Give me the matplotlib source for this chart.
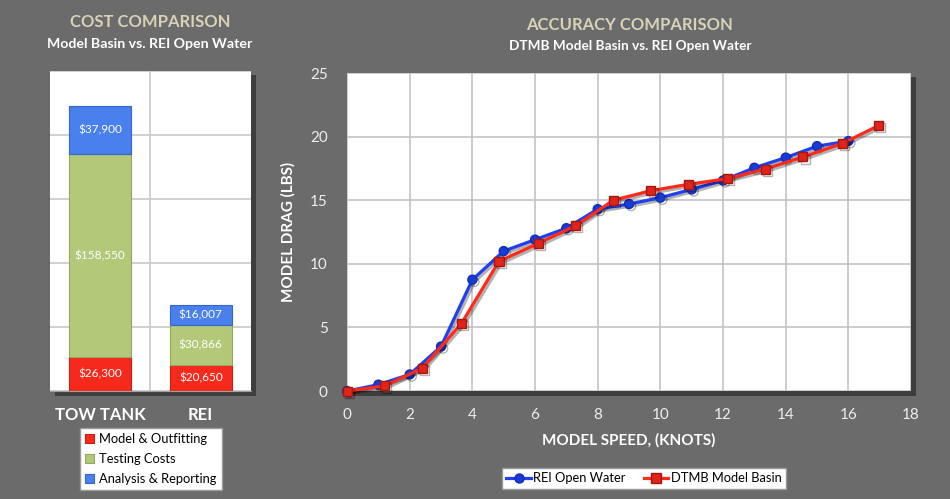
import matplotlib.pyplot as plt
import matplotlib.patheffects as pe
from matplotlib.patches import Rectangle

# cost comparison data
categories = ['TOW TANK', 'REI']
model_outfitting = [26300, 20650]
testing_costs = [158550, 30866]
analysis_reporting = [37900, 16007]
cost_series = ['Model & Outfitting', 'Testing Costs', 'Analysis & Reporting']

# accuracy comparison data
rei_speed = [0, 1, 2, 3, 4, 5, 6, 7, 8, 9, 10, 11, 12, 13, 14, 15, 16]
rei_drag = [0, 0.5, 1.3, 3.5, 8.75, 11.0, 11.9, 12.8, 14.3, 14.7, 15.2, 15.85, 16.55, 17.55, 18.35, 19.25, 19.65]
dtmb_speed = [0, 1.2, 2.4, 3.65, 4.85, 6.1, 7.3, 8.5, 9.7, 10.9, 12.15, 13.35, 14.55, 15.8, 16.95]
dtmb_drag = [0, 0.4, 1.8, 5.3, 10.2, 11.6, 13.0, 15.0, 15.75, 16.25, 16.7, 17.45, 18.4, 19.45, 20.85]

BG = '#6b6b6b'
TITLE = '#d8d2b6'
RED = '#f52a1c'
GREEN = '#b3c979'
BLUE = '#4a80ee'
FONT = 'Lato'

plt.rcParams['font.family'] = FONT

fig = plt.figure(figsize=(9.5, 4.99), dpi=100, facecolor=BG)

def shadow(ax_rect):
    l, b, w, h = ax_rect
    fig.patches.append(Rectangle((l + 0.005, b - 0.009), w, h, transform=fig.transFigure,
                                 facecolor='#3e3e3e', edgecolor='none', zorder=-5))

# ---------- left: cost comparison ----------
rect1 = [0.0526, 0.2164, 0.2116, 0.6413]
shadow(rect1)
ax1 = fig.add_axes(rect1, zorder=2)
ax1.set_facecolor('white')
x = range(len(categories))
w = 0.62
b1 = ax1.bar(x, model_outfitting, w, color=RED, edgecolor='#c81e14', linewidth=0.8, label=cost_series[0], zorder=3)
b2 = ax1.bar(x, testing_costs, w, bottom=model_outfitting, color=GREEN, edgecolor='#93a85e', linewidth=0.8,
             label=cost_series[1], zorder=3)
bottoms = [a + b for a, b in zip(model_outfitting, testing_costs)]
b3 = ax1.bar(x, analysis_reporting, w, bottom=bottoms, color=BLUE, edgecolor='#3366cc', linewidth=0.8,
             label=cost_series[2], zorder=3)
for bars, vals in [(b1, model_outfitting), (b2, testing_costs), (b3, analysis_reporting)]:
    ax1.bar_label(bars, labels=['${:,}'.format(v) for v in vals], label_type='center',
                  color='white', fontsize=8.5)
ax1.set_xlim(-0.5, 1.5)
ax1.set_ylim(0, 250000)
ax1.set_yticks(range(0, 250001, 50000))
ax1.yaxis.grid(True, color='#c8c8c8', linewidth=1.2, zorder=0)
ax1.axvline(0.5, color='#c8c8c8', linewidth=1.2, zorder=0)
ax1.tick_params(left=False, labelleft=False, bottom=False)
ax1.set_xticks(list(x))
ax1.set_xticklabels(categories, color='white', fontsize=12, fontweight='bold')
ax1.tick_params(axis='x', pad=8)
for s in ax1.spines.values():
    s.set_visible(False)
ax1.spines['bottom'].set_visible(True)
ax1.spines['bottom'].set_color('#a0a0a0')

leg1 = fig.legend(handles=[b1, b2, b3], loc='upper left', bbox_to_anchor=(0.084, 0.142),
                  frameon=True, fancybox=False, fontsize=9.3, handlelength=0.7, handleheight=0.7,
                  handletextpad=0.4, labelspacing=0.6, borderpad=0.4, borderaxespad=0)
leg1.get_frame().set_facecolor('white')
leg1.get_frame().set_edgecolor('#999999')
leg1.get_frame().set_alpha(1)

fig.text(0.158, 0.955, 'COST COMPARISON', ha='center', va='center', color=TITLE, fontsize=12, fontweight='bold')
fig.text(0.158, 0.911, 'Model Basin vs. REI Open Water', ha='center', va='center', color='white',
         fontsize=10.2, fontweight='bold')

# ---------- right: accuracy comparison ----------
rect2 = [0.3653, 0.2164, 0.5937, 0.6373]
shadow(rect2)
ax2 = fig.add_axes(rect2, zorder=2)
ax2.set_facecolor('white')
sh = [pe.SimpleLineShadow(offset=(1.5, -1.5), alpha=0.3), pe.Normal()]
ax2.plot(rei_speed, rei_drag, color='#1f3ff0', linewidth=2.3, marker='o', markersize=6.5,
         markerfacecolor='#1a3ad8', markeredgecolor='#1430b0', label='REI Open Water', zorder=4,
         path_effects=sh, clip_on=False)
ax2.plot(dtmb_speed, dtmb_drag, color='#ff2a1a', linewidth=2.3, marker='s', markersize=6.5,
         markerfacecolor='#e0241a', markeredgecolor='#a01810', label='DTMB Model Basin', zorder=5,
         path_effects=sh, clip_on=False)
ax2.set_xlim(0, 18)
ax2.set_ylim(0, 25)
ax2.set_xticks(range(0, 19, 2))
ax2.set_yticks(range(0, 26, 5))
ax2.grid(True, color='#c4c4c4', linewidth=1.2, zorder=0)
ax2.tick_params(length=0, colors='#eeeeee', labelsize=11)
ax2.tick_params(axis='y', pad=14)
ax2.tick_params(axis='x', pad=12)
for s in ax2.spines.values():
    s.set_visible(False)
ax2.set_xlabel('MODEL SPEED, (KNOTS)', color='white', fontsize=11, fontweight='bold', labelpad=8)
ax2.set_ylabel('MODEL DRAG (LBS)', color='white', fontsize=11, fontweight='bold', labelpad=10)

leg2 = fig.legend(handles=ax2.get_lines(), loc='center', bbox_to_anchor=(0.678, 0.042), ncol=2,
                  frameon=True, fancybox=False, fontsize=9.3, handlelength=1.9, handletextpad=0.2,
                  columnspacing=1.4, borderpad=0.35, borderaxespad=0)
leg2.get_frame().set_facecolor('white')
leg2.get_frame().set_edgecolor('#999999')
leg2.get_frame().set_alpha(1)
for h in leg2.legend_handles:
    h.set_path_effects([])

fig.text(0.663, 0.949, 'ACCURACY COMPARISON', ha='center', va='center', color=TITLE, fontsize=12, fontweight='bold')
fig.text(0.663, 0.907, 'DTMB Model Basin vs. REI Open Water', ha='center', va='center', color='white',
         fontsize=9.8, fontweight='bold')

fig.savefig('out.png', dpi=100, facecolor=BG)
